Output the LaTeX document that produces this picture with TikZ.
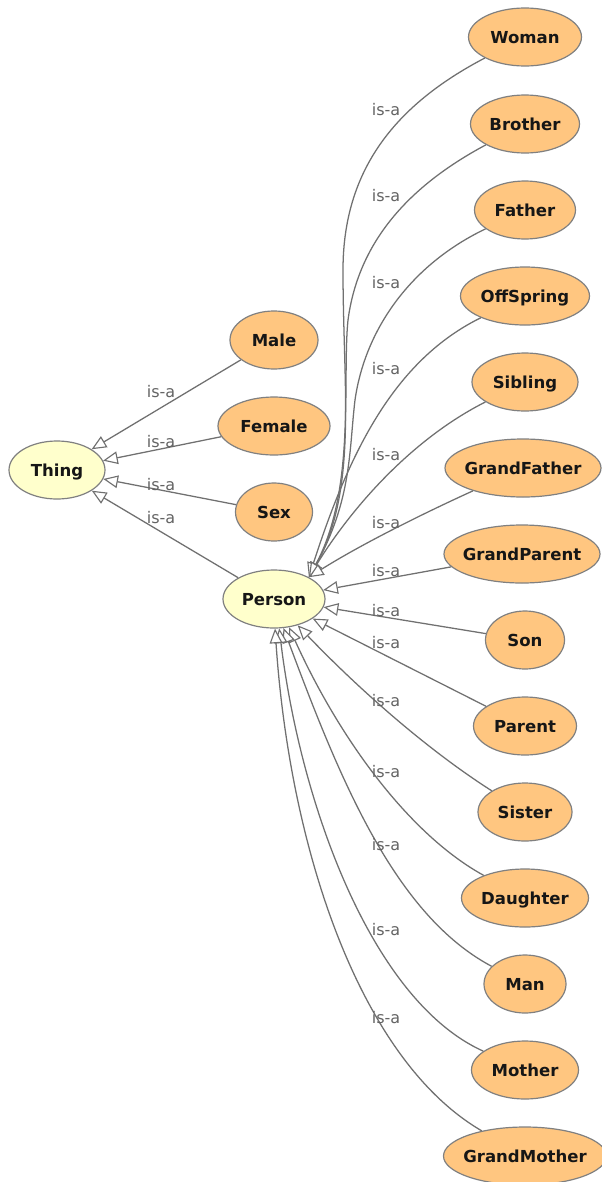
\documentclass[tikz,border=0pt]{standalone}
\usepackage{fontspec}
\setmainfont{DejaVu Sans}
\usetikzlibrary{shapes.geometric,arrows.meta}

\definecolor{clsfill}{RGB}{255,198,128}
\definecolor{rootfill}{RGB}{255,255,204}
\definecolor{rim}{RGB}{128,128,128}
\definecolor{edgegray}{RGB}{112,112,112}
\definecolor{isagray}{RGB}{100,100,100}
\definecolor{ink}{RGB}{22,22,22}

% class names are centred in a zero-width box so the ellipse keeps its given size
\newcommand\ctext[1]{\makebox[0pt][c]{#1}}

\tikzset{
  cls/.style={ellipse, draw=rim, line width=0.9pt, fill=clsfill,
    minimum width={#1*0.75pt}, minimum height=43.5pt, inner sep=0pt,
    text height=9pt, text depth=0pt, text=ink,
    font=\fontsize{12.4}{14}\selectfont\bfseries},
  root/.style={cls=#1, fill=rootfill},
  rel/.style={draw=edgegray, line width=0.95pt,
    -{Triangle[length=11pt, width=9.5pt, fill=white, line width=0.85pt]}},
  isa/.style={text=isagray, inner sep=0pt, font=\fontsize{12}{14}\selectfont},
}

\begin{document}
\begin{tikzpicture}[x=0.75pt, y=-0.75pt]
  \fill[white] (0,0) rectangle (601,1182);
  \useasboundingbox (0,0) rectangle (601,1182);

  % roots
  \node[root=96]  (thing)  at (57,470)  {\ctext{Thing}};
  \node[root=102] (person) at (274,599) {\ctext{Person}};

  % direct subclasses of Thing
  \node[cls=88]  (male)   at (274,340) {\ctext{Male}};
  \node[cls=112] (female) at (274,426) {\ctext{Female}};
  \node[cls=77]  (sex)    at (274,512) {\ctext{Sex}};

  % subclasses of Person
  \node[cls=113] (woman)       at (525,37)   {\ctext{Woman}};
  \node[cls=109] (brother)     at (525,124)  {\ctext{Brother}};
  \node[cls=101] (father)      at (525,210)  {\ctext{Father}};
  \node[cls=129] (offspring)   at (525,296)  {\ctext{OffSpring}};
  \node[cls=106] (sibling)     at (525,382)  {\ctext{Sibling}};
  \node[cls=156] (grandfather) at (523,468)  {\ctext{GrandFather}};
  \node[cls=156] (grandparent) at (522,554)  {\ctext{GrandParent}};
  \node[cls=79]  (son)         at (525,640)  {\ctext{Son}};
  \node[cls=103] (parent)      at (525,726)  {\ctext{Parent}};
  \node[cls=94]  (sister)      at (525,812)  {\ctext{Sister}};
  \node[cls=127] (daughter)    at (525,898)  {\ctext{Daughter}};
  \node[cls=82]  (man)         at (525,984)  {\ctext{Man}};
  \node[cls=107] (mother)      at (525,1070) {\ctext{Mother}};
  \node[cls=163] (grandmother) at (525,1156) {\ctext{GrandMother}};

  % is-a links to Thing
  \draw[rel] (male)   -- (thing);
  \draw[rel] (female) -- (thing);
  \draw[rel] (sex)    -- (thing);
  \draw[rel] (person) -- (thing);

  % is-a links to Person, upper fan
  \draw[rel] (woman) .. controls (395,105) and (343,170) .. (343,270)
                     .. controls (343,390) and (358,490) .. (person.32);
  \draw[rel] (brother) .. controls (405,188) and (358,245) .. (348,320)
                       .. controls (342,380) and (356,490) .. (person.32);
  \draw[rel] (father) .. controls (410,265) and (365,330) .. (355,400)
                      .. controls (349,450) and (352,500) .. (person.32);
  \draw[rel] (offspring)   .. controls (395,360) and (350,450) .. (person.32);
  \draw[rel] (sibling)     .. controls (410,440) and (350,510) .. (person.32);
  \draw[rel] (grandfather) .. controls (420,515) and (360,545) .. (person.32);

  % is-a links to Person, straight ones
  \draw[rel] (grandparent) -- (person);
  \draw[rel] (son)         -- (person);
  \draw[rel] (parent)      -- (person);

  % is-a links to Person, lower fan
  \draw[rel] (sister)      .. controls (420,745)  and (350,680) .. (person.-48);
  \draw[rel] (daughter)    .. controls (410,835)  and (340,740) .. (person.-62);
  \draw[rel] (man)         .. controls (395,915)  and (340,780) .. (person.-72);
  \draw[rel] (mother)      .. controls (370,1000) and (300,800) .. (person.-80);
  \draw[rel] (grandmother) .. controls (360,1060) and (290,850) .. (person.-88);

  % edge labels
  \node[isa] (l1) at (161,392) {is-a};
  \node[isa] (l2) at (161,442) {is-a};
  \node[isa] (l3) at (161,485) {is-a};
  \node[isa] (l4) at (161,518) {is-a};

  \node[isa] (r1)  at (386,110)  {is-a};
  \node[isa] (r2)  at (386,196)  {is-a};
  \node[isa] (r3)  at (386,283)  {is-a};
  \node[isa] (r4)  at (386,369)  {is-a};
  \node[isa] (r5)  at (386,455)  {is-a};
  \node[isa] (r6)  at (386,523)  {is-a};
  \node[isa] (r7)  at (386,571)  {is-a};
  \node[isa] (r8)  at (386,611)  {is-a};
  \node[isa] (r9)  at (386,643)  {is-a};
  \node[isa] (r10) at (386,701)  {is-a};
  \node[isa] (r11) at (386,772)  {is-a};
  \node[isa] (r12) at (386,845)  {is-a};
  \node[isa] (r13) at (386,930)  {is-a};
  \node[isa] (r14) at (386,1018) {is-a};
\end{tikzpicture}
\end{document}
